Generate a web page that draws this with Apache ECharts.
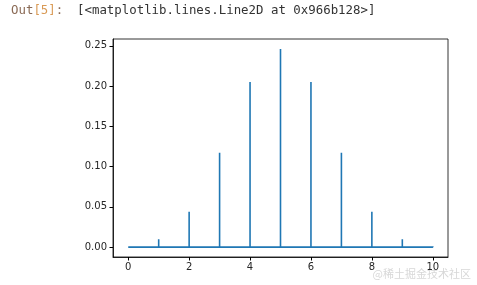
<!DOCTYPE html>
<html><head><meta charset="utf-8">
<script src="https://cdn.jsdelivr.net/npm/echarts@6/dist/echarts.min.js"></script>
<style>html,body{margin:0;padding:0;background:#fff}#c{width:477px;height:285px}</style>
</head><body><div id="c"></div>
<script>
const ks = [0,1,2,3,4,5,6,7,8,9,10];
const pmf = [0.001,0.0098,0.0439,0.1172,0.2051,0.2461,0.2051,0.1172,0.0439,0.0098,0.001];
const xTicks = [0,2,4,6,8,10];
const yTicks = [0,0.05,0.10,0.15,0.20,0.25];

const pts = [];
ks.forEach((k,i)=>{ pts.push([k,0]); pts.push([k,pmf[i]]); pts.push([k,0]); });

const chart = echarts.init(document.getElementById('c'), null, {renderer:'canvas'});
const lab = {color:'#262626', fontFamily:'DejaVu Sans', fontSize:10};
const font = '12.4px "DejaVu Sans Mono"';
chart.setOption({
  animation:false,
  graphic:[
    {type:'text', left:11, top:5, style:{text:'{a|Out}{b|[5]}{a|:}', font:font,
      rich:{a:{fill:'#8a6a55', font:font}, b:{fill:'#d99a55', font:font}}}},
    {type:'text', left:77, top:5, style:{text:'[<matplotlib.lines.Line2D at 0x966b128>]', fill:'#333', font:font}},
    {type:'text', right:6, top:268, style:{text:'@稀土掘金技术社区', fill:'#d8d8d8', font:'11px "Noto Sans CJK SC"'}}
  ],
  grid:{left:113, right:29, top:39, bottom:28, show:true, borderColor:'#000', borderWidth:0.8, backgroundColor:'transparent'},
  xAxis:{type:'value', min:-0.5, max:10.5,
    axisLine:{show:true, onZero:false, lineStyle:{color:'#000', width:0.8}}, splitLine:{show:false},
    axisTick:{show:true, inside:false, length:3.5, lineStyle:{color:'#000', width:1}, customValues:xTicks},
    axisLabel:Object.assign({margin:5, customValues:xTicks, formatter:v=>String(v)}, lab)},
  yAxis:{type:'value', min:-0.0123, max:0.2584,
    axisLine:{show:true, onZero:false, lineStyle:{color:'#000', width:0.8}}, splitLine:{show:false},
    axisTick:{show:true, inside:false, length:3.5, lineStyle:{color:'#000', width:1}, customValues:yTicks},
    axisLabel:Object.assign({margin:6, customValues:yTicks, formatter:v=>v.toFixed(2)}, lab)},
  series:[{type:'line', data:pts, symbol:'none', lineStyle:{color:'#1f77b4', width:1.6}, clip:true}]
});
</script></body></html>
